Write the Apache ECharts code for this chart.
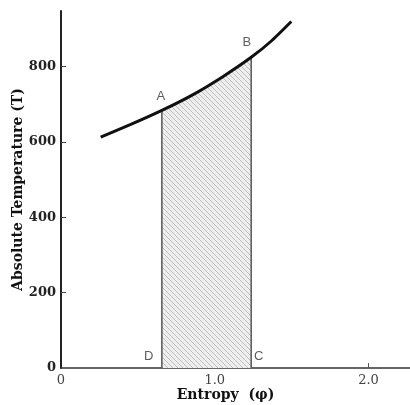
<!DOCTYPE html>
<html>
<head>
<meta charset="utf-8">
<script src="https://cdn.jsdelivr.net/npm/echarts@6/dist/echarts.min.js"></script>
<style>html,body{margin:0;padding:0;background:#fff}#c{width:410px;height:405px}</style>
</head>
<body>
<div id="c"></div>
<script>
// Curve T(φ)
const curveEntropy = [0.258, 0.45, 0.656, 0.85, 1.05, 1.237, 1.37, 1.498];
const curveTemp    = [613,   646,  684,   724,  773,  825,   869,  920];
// Shaded region between A-D and B-C
const shadeEntropy = [0.656, 0.85, 1.05, 1.237];
const shadeTemp    = [684,   724,  773,  825];
// Point labels
const pointNames   = ['A', 'B', 'D', 'C'];
const pointEntropy = [0.649, 1.208, 0.571, 1.286];
const pointTemp    = [720,   864,   31,    31];
// Ticks
const yTicks = [0, 200, 400, 600, 800];
const xTicks = [0, 1, 2];
const xTickLabels = ['0', '1.0', '2.0'];

function hatch() {
  const c = document.createElement('canvas');
  c.width = 5; c.height = 5;
  const g = c.getContext('2d');
  g.fillStyle = '#eeeeee';
  g.fillRect(0, 0, 5, 5);
  g.strokeStyle = '#bdbdbd';
  g.lineWidth = 1;
  g.beginPath();
  g.moveTo(-1, -1); g.lineTo(6, 6);
  g.moveTo(-1, 4); g.lineTo(1, 6);
  g.moveTo(4, -1); g.lineTo(6, 1);
  g.stroke();
  return c;
}

const chart = echarts.init(document.getElementById('c'));
const curve = curveEntropy.map((x, i) => [x, curveTemp[i]]);
const shade = shadeEntropy.map((x, i) => [x, shadeTemp[i]]);
const pts = pointNames.map((n, i) => ({ name: n, value: [pointEntropy[i], pointTemp[i]] }));
const last = shade.length - 1;

chart.setOption({
  backgroundColor: '#fff',
  animation: false,
  grid: { left: 61, top: 11, right: 0, bottom: 37, containLabel: false, outerBoundsMode: 'none' },
  xAxis: {
    type: 'value', min: 0, max: 2.27,
    name: 'Entropy  (φ)', nameLocation: 'middle', nameGap: 20, nameMoveOverlap: false,
    nameTextStyle: { fontFamily: 'DejaVu Serif', fontWeight: 'bold', fontSize: 14, color: '#111', padding: [0, 20, 0, 0] },
    axisLine: { lineStyle: { color: '#333', width: 1.5 } },
    axisTick: { inside: true, length: 5, customValues: [1, 2], lineStyle: { color: '#555' } },
    splitLine: { show: false },
    axisLabel: {
      customValues: xTicks, margin: 6,
      formatter: v => xTickLabels[xTicks.indexOf(v)] || '',
      fontFamily: 'DejaVu Serif', fontSize: 13, color: '#444'
    }
  },
  yAxis: {
    type: 'value', min: 0, max: 948,
    name: 'Absolute Temperature (T)', nameLocation: 'middle', nameGap: 36, nameMoveOverlap: false,
    nameTextStyle: { fontFamily: 'DejaVu Serif', fontWeight: 'bold', fontSize: 14, color: '#111' },
    axisLine: { show: true, lineStyle: { color: '#222', width: 2 } },
    axisTick: { show: true, inside: true, length: 5, customValues: yTicks.slice(1), lineStyle: { color: '#444' } },
    splitLine: { show: false },
    axisLabel: {
      customValues: yTicks, margin: 5,
      fontFamily: 'DejaVu Serif', fontWeight: 'bold', fontSize: 13, color: '#222'
    }
  },
  series: [
    {
      type: 'line', data: shade, smooth: 0.2, symbol: 'none',
      lineStyle: { width: 0 },
      areaStyle: { color: { image: hatch(), repeat: 'repeat' }, opacity: 1 },
      z: 1
    },
    {
      type: 'line', data: [[shade[0][0], 0], shade[0]], symbol: 'none',
      lineStyle: { color: '#555', width: 1.5 }, z: 2
    },
    {
      type: 'line', data: [[shade[last][0], 0], shade[last]], symbol: 'none',
      lineStyle: { color: '#555', width: 1.5 }, z: 2
    },
    {
      type: 'line', data: curve, smooth: 0.2, symbol: 'none',
      lineStyle: { color: '#111', width: 3 }, z: 3
    },
    {
      type: 'scatter', data: pts, symbolSize: 0,
      label: {
        show: true, position: 'inside', formatter: p => p.name,
        fontFamily: 'Liberation Sans', fontSize: 13, color: '#333'
      },
      z: 4
    }
  ]
});
</script>
</body>
</html>
